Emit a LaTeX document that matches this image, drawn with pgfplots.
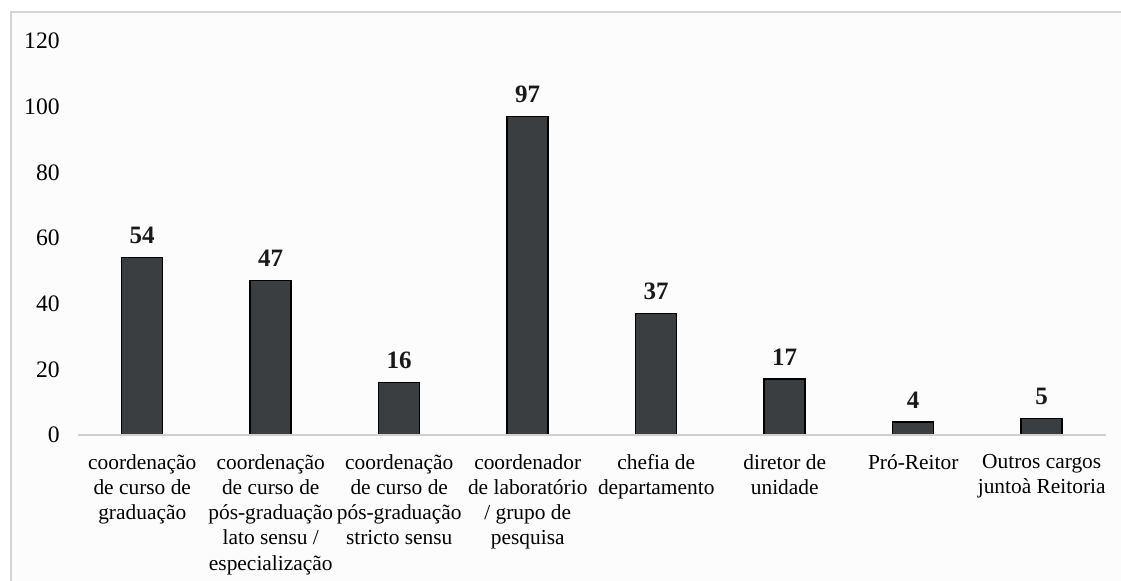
\documentclass[border=0pt]{standalone}
\usepackage{pgfplots}
\pgfplotsset{compat=1.18}
\usepackage{fontspec}
\setmainfont{Liberation Serif}
\definecolor{barc}{HTML}{3B3E41}
\definecolor{framec}{HTML}{D4D4D4}
\definecolor{axisc}{HTML}{D0D0D0}
\begin{document}
\fontsize{10.5}{12.6}\selectfont
\begin{tikzpicture}
\clip (0pt,0pt) rectangle (560.5pt,290.5pt);
\fill[white] (0pt,0pt) rectangle (560.5pt,290.5pt);
\draw[framec, line width=0.8pt, fill=white!99!black] (5.5pt,-10pt) rectangle (575pt,284.5pt);
\begin{axis}[
  at={(39pt,73pt)}, anchor=south west,
  scale only axis, width=514pt, height=197pt,
  xmin=-0.5, xmax=7.5, ymin=0, ymax=120,
  ytick={0,20,...,120},
  xtick={0,...,7},
  xticklabels={{coordenação\\de curso de\\graduação},
               {coordenação\\de curso de\\pós-graduação\\lato sensu /\\especialização},
               {coordenação\\de curso de\\pós-graduação\\stricto sensu},
               {coordenador\\de laboratório\\/ grupo de\\pesquisa},
               {chefia de\\departamento},
               {diretor de\\unidade},
               {Pró-Reitor},
               {Outros cargos\\juntoà Reitoria}},
  xticklabel style={align=center, font=\fontsize{10.7}{12.6}\selectfont, yshift=-6pt},
  yticklabel style={font=\fontsize{11.8}{14}\selectfont, xshift=-5.5pt, anchor=east},
  /pgf/number format/assume math mode=true,
  axis x line*=bottom, axis y line*=left,
  x axis line style={draw=axisc, line width=0.8pt, -},
  y axis line style={draw=none},
  major tick length=0pt,
  ybar, bar width=20.5pt,
  axis on top,
  nodes near coords,
  nodes near coords style={font=\fontsize{12.5}{15}\selectfont\bfseries, color=black!90, yshift=3pt},
  clip=false,
]
\addplot[fill=barc, draw=black, line width=0.75pt] coordinates {
  (0,54) (1,47) (2,16) (3,97) (4,37) (5,17) (6,4) (7,5)};
\end{axis}
\end{tikzpicture}
\end{document}
